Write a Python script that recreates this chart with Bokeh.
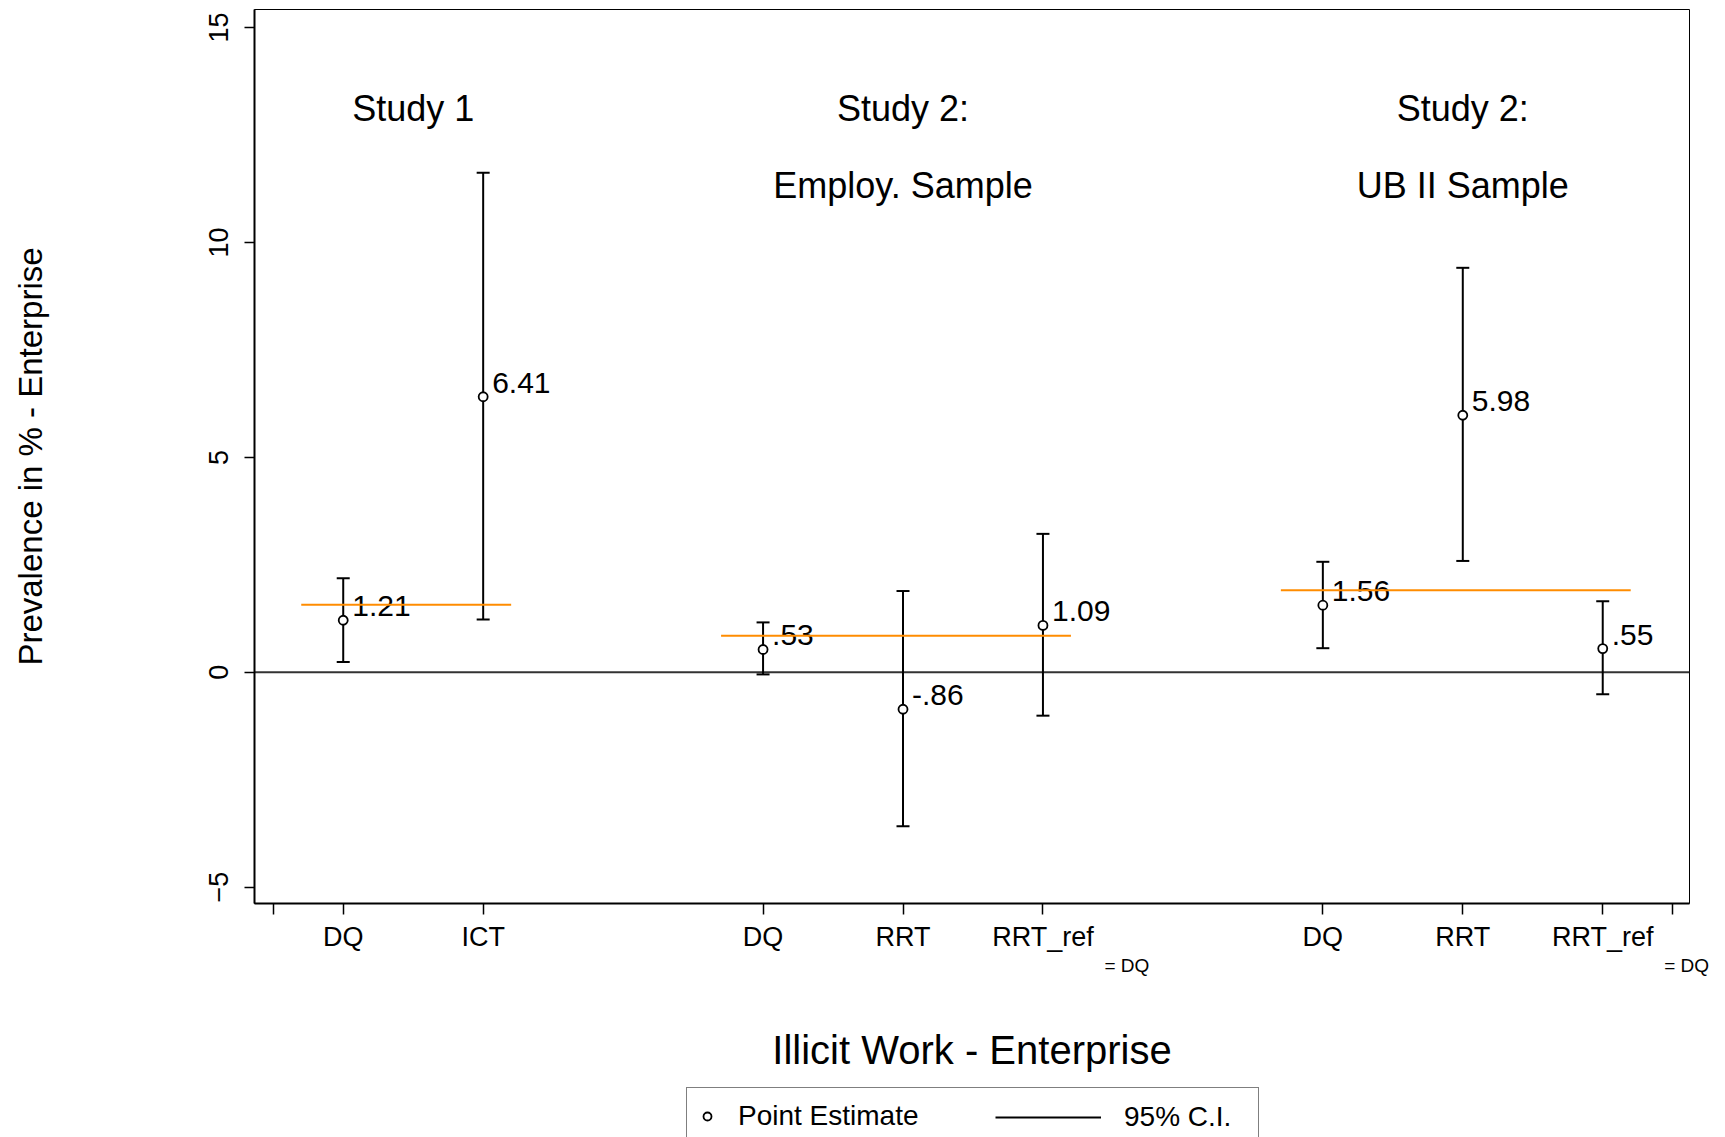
import math
from bokeh.plotting import figure
from bokeh.layouts import column
from bokeh.models import (Range1d, FixedTicker, Span, Legend, LegendItem, LinearAxis,
                          ColumnDataSource)
from bokeh.core.properties import value
from bokeh.embed import file_html
from bokeh.resources import INLINE

# ---------------- data ----------------
group_titles = [["Study 1"], ["Study 2:", "Employ. Sample"], ["Study 2:", "UB II Sample"]]
group_methods = [["DQ", "ICT"], ["DQ", "RRT", "RRT_ref"], ["DQ", "RRT", "RRT_ref"]]
point_est = [1.21, 6.41, 0.53, -0.86, 1.09, 1.56, 5.98, 0.55]
ci_low = [0.24, 1.23, -0.05, -3.58, -1.01, 0.56, 2.59, -0.51]
ci_high = [2.19, 11.62, 1.16, 1.89, 3.22, 2.57, 9.41, 1.65]
ref_level = [1.57, 0.85, 1.91]          # orange reference line for each study block
y_ticks = [-5, 0, 5, 10, 15]
ref_subscript = "= DQ"
legend_labels = ["Point Estimate", "95% C.I."]

FONT = "Liberation Sans"

# ---------------- layout from the groups ----------------
positions, tick_names, group_centers, group_first, group_last = [], [], [], [], []
pos = 1
for methods in group_methods:
    gp = []
    for m in methods:
        positions.append(pos)
        tick_names.append(m)
        gp.append(pos)
        pos += 1
    group_centers.append(sum(gp) / len(gp))
    group_first.append(gp[0])
    group_last.append(gp[-1])
    pos += 1


def stata_fmt(v):
    s = f"{v:.2f}"
    if s.startswith("0."):
        s = s[1:]
    elif s.startswith("-0."):
        s = "-" + s[2:]
    return s


value_labels = [stata_fmt(v) for v in point_est]

BL, BR = 254, 36   # left / right borders shared by both stacked figures
MAIN_H, LEG_H = 1083, 54

p = figure(width=1725, height=MAIN_H,
           x_range=Range1d(positions[0] - 0.634, positions[-1] + 0.62),
           y_range=Range1d(-5.38, 15.42),
           output_backend="svg", toolbar_location=None,
           min_border_left=BL, min_border_right=BR, min_border_top=9,
           min_border_bottom=MAIN_H - 903)
p.background_fill_color = "white"
p.border_fill_color = "white"
p.outline_line_color = "black"
p.outline_line_width = 1
p.xgrid.visible = False
p.ygrid.visible = False

# x axis (method names)
xa = p.xaxis[0]
edge_ticks = [positions[0] - 0.5, positions[-1] + 0.5]
xa.ticker = FixedTicker(ticks=positions + edge_ticks)
overrides = {x: n for x, n in zip(positions, tick_names)}
for t in edge_ticks:
    overrides[t] = ""
xa.major_label_overrides = overrides
xa.axis_line_width = 2
xa.axis_line_color = "black"
xa.major_tick_line_width = 1.5
xa.major_tick_line_color = "black"
xa.major_tick_out = 11
xa.major_tick_in = 0
xa.minor_tick_line_color = None
xa.major_label_text_font = FONT
xa.major_label_text_font_size = "27px"
xa.major_label_text_color = "black"
xa.major_label_standoff = 7

# second x axis: "= DQ" subscripts + axis title
sub_ticks = [x + 0.6 for x, n in zip(positions, tick_names) if n == "RRT_ref"]
xa2 = LinearAxis(ticker=FixedTicker(ticks=sub_ticks),
                 major_label_overrides={t: ref_subscript for t in sub_ticks},
                 axis_line_color=None, major_tick_line_color=None,
                 minor_tick_line_color=None, major_tick_out=0, major_tick_in=0,
                 major_label_standoff=0, major_label_text_font=FONT,
                 major_label_text_font_size="19px", major_label_text_color="black",
                 axis_label="Illicit Work - Enterprise", axis_label_text_font=FONT,
                 axis_label_text_font_size="40px", axis_label_text_font_style="normal",
                 axis_label_text_color="black", axis_label_standoff=49)
p.add_layout(xa2, "below")

# y axis
ya = p.yaxis[0]
ya.ticker = FixedTicker(ticks=y_ticks)
ya.major_label_orientation = "vertical"
ya.axis_line_width = 2
ya.axis_line_color = "black"
ya.major_tick_line_width = 1.5
ya.major_tick_line_color = "black"
ya.major_tick_out = 10
ya.major_tick_in = 0
ya.minor_tick_line_color = None
ya.major_label_text_font = FONT
ya.major_label_text_font_size = "27px"
ya.major_label_text_color = "black"
ya.major_label_standoff = 16
ya.axis_label = "Prevalence in % - Enterprise"
ya.axis_label_text_font = FONT
ya.axis_label_text_font_size = "33px"
ya.axis_label_text_font_style = "normal"
ya.axis_label_text_color = "black"
ya.axis_label_standoff = 158

# zero line
p.add_layout(Span(location=0, dimension="width", line_color="#333333", line_width=2,
                  level="underlay"))

# confidence intervals
ci_style = dict(line_color="black", line_width=2)
p.segment(x0=positions, y0=ci_low, x1=positions, y1=ci_high, **ci_style)
p.scatter(x=positions + positions, y=ci_low + ci_high, marker="dash", size=13,
          line_color="black", line_width=2)

# point estimates
pt_style = dict(marker="circle", size=9, fill_color="white", line_color="black",
                line_width=1.8)
p.scatter(x=positions, y=point_est, **pt_style)

# value labels
p.text(x=positions, y=point_est, text=value_labels, x_offset=9, y_offset=-14,
       text_align="left", text_baseline="middle", text_font=value(FONT),
       text_font_size="30px", text_color="black")

# orange reference lines
p.segment(x0=[f - 0.3 for f in group_first], y0=ref_level,
          x1=[l + 0.2 for l in group_last], y1=ref_level,
          line_color="#ff8c00", line_width=2)

# study headers
hx, hy, ht, hdy = [], [], [], []
for c, lines in zip(group_centers, group_titles):
    for k, line in enumerate(lines):
        hx.append(c)
        hy.append(13.12)
        ht.append(line)
        hdy.append(77 * k)
hsrc = ColumnDataSource(dict(x=hx, y=hy, text=ht, dy=hdy))
p.text(x="x", y="y", text="text", y_offset="dy", source=hsrc, text_align="center",
       text_baseline="middle", text_font=value(FONT), text_font_size="36px",
       text_color="black")

# ---------------- legend strip (separate figure beneath) ----------------
lg = figure(width=1725, height=LEG_H, output_backend="svg", toolbar_location=None,
            x_range=Range1d(0, 1), y_range=Range1d(0, 1),
            x_axis_location=None, y_axis_location=None,
            min_border_left=BL, min_border_right=BR, min_border_top=0, min_border_bottom=0)
lg.outline_line_color = None
lg.xgrid.visible = False
lg.ygrid.visible = False
lg.background_fill_color = "white"
lg.border_fill_color = "white"
nan = float("nan")
keysrc = ColumnDataSource(dict(x=[nan], y=[nan], x0=[nan], y0=[nan], x1=[nan], y1=[nan]))
pt_key = lg.scatter(x="x", y="y", source=keysrc, **pt_style)
ci_key = lg.segment(x0="x0", y0="y0", x1="x1", y1="y1", source=keysrc, **ci_style)

leg_a = Legend(items=[LegendItem(label=legend_labels[0], renderers=[pt_key])],
               location=(686 - BL, -8), orientation="horizontal",
               padding=10, glyph_width=20, glyph_height=36, label_standoff=21,
               label_width=510, label_text_font=FONT, label_text_font_size="28px",
               label_text_color="black", border_line_color="black",
               border_line_width=1.5, background_fill_color="white",
               background_fill_alpha=1, margin=0)
leg_b = Legend(items=[LegendItem(label=legend_labels[1], renderers=[ci_key])],
               location=(985 - BL, -8), orientation="horizontal",
               padding=10, glyph_width=106, glyph_height=36, label_standoff=23,
               label_text_font=FONT, label_text_font_size="28px",
               label_text_color="black", border_line_alpha=0,
               background_fill_alpha=0, margin=0)
lg.add_layout(leg_a, "center")
lg.add_layout(leg_b, "center")

layout = column(p, lg, spacing=0)
open("out.html", "w").write(file_html(layout, INLINE))
